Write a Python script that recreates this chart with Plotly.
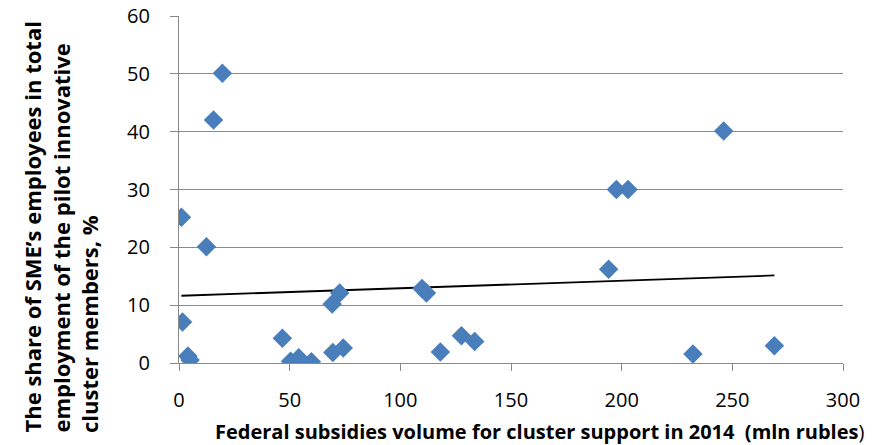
import numpy as np
import plotly.graph_objects as go

# Federal subsidies (mln rubles) and SME employee share (%)
subsidies = [1.1, 1.6, 4.0, 5.0, 12.4, 15.6, 19.6, 46.7, 50.4, 54.1, 59.8, 69.2, 72.6,
             69.5, 74.2, 109.8, 111.8, 118.1, 127.6, 133.6, 194.1, 197.6, 202.9,
             246.1, 232.2, 269.0]
sme_share = [25.2, 7.1, 1.2, 0.5, 20.1, 42.0, 50.1, 4.3, 0.3, 0.9, 0.2, 10.2, 12.1,
             1.8, 2.6, 12.9, 12.1, 1.9, 4.7, 3.7, 16.2, 30.0, 30.0,
             40.1, 1.55, 3.0]

x_ticks = [0, 50, 100, 150, 200, 250, 300]
y_ticks = [0, 10, 20, 30, 40, 50, 60]

x_title = "<b>Federal subsidies volume for cluster support in 2014  (mln rubles</b>)"
y_title_lines = ["The share of SME’s employees in total",
                 "employment of the pilot innovative",
                 "cluster members, %"]

# linear trend
xs = np.array(subsidies)
ys = np.array(sme_share)
slope, intercept = np.polyfit(xs, ys, 1)
trend_x = [xs.min(), xs.max()]
trend_y = [intercept + slope * v for v in trend_x]

FONT = "Open Sans"
GRID = "#898989"

fig = go.Figure()
fig.add_trace(go.Scatter(
    x=trend_x, y=trend_y, mode="lines",
    line=dict(color="black", width=1.8), hoverinfo="skip", showlegend=False))
fig.add_trace(go.Scatter(
    x=subsidies, y=sme_share, mode="markers",
    marker=dict(symbol="diamond", size=15, color="#4A7EBB",
                line=dict(width=0)),
    showlegend=False))

annotations = [
    dict(text=x_title, xref="paper", yref="paper", x=0, y=0,
         xshift=360, yshift=-68, xanchor="center", yanchor="middle",
         showarrow=False, font=dict(family=FONT, size=20, color="black")),
]
for i, line in enumerate(y_title_lines):
    annotations.append(dict(
        text="<b>" + line + "</b>", xref="paper", yref="paper", x=0, y=0,
        xshift=-148 + 29 * i, yshift=-72, xanchor="center", yanchor="bottom",
        textangle=-90, showarrow=False,
        font=dict(family=FONT, size=22, color="black")))

fig.update_layout(
    width=882, height=445,
    margin=dict(l=179, r=39, t=16, b=82),
    plot_bgcolor="white", paper_bgcolor="white",
    font=dict(family=FONT, size=20, color="black"),
    xaxis=dict(range=[0, 300], tickvals=x_ticks, showgrid=False,
               showline=True, linecolor=GRID, linewidth=1.3, automargin=False,
               ticks="outside", ticklen=7, tickcolor=GRID, tickwidth=1.3,
               ticklabelstandoff=12, zeroline=False,
               tickfont=dict(family=FONT, size=20)),
    yaxis=dict(range=[0, 60], tickvals=y_ticks, showgrid=True,
               gridcolor=GRID, gridwidth=1.3, automargin=False,
               showline=True, linecolor=GRID, linewidth=1.3,
               ticks="outside", ticklen=8, tickcolor=GRID, tickwidth=1.3,
               ticklabelstandoff=16, zeroline=False,
               tickfont=dict(family=FONT, size=20)),
    annotations=annotations,
)

fig.write_html("out.html")
